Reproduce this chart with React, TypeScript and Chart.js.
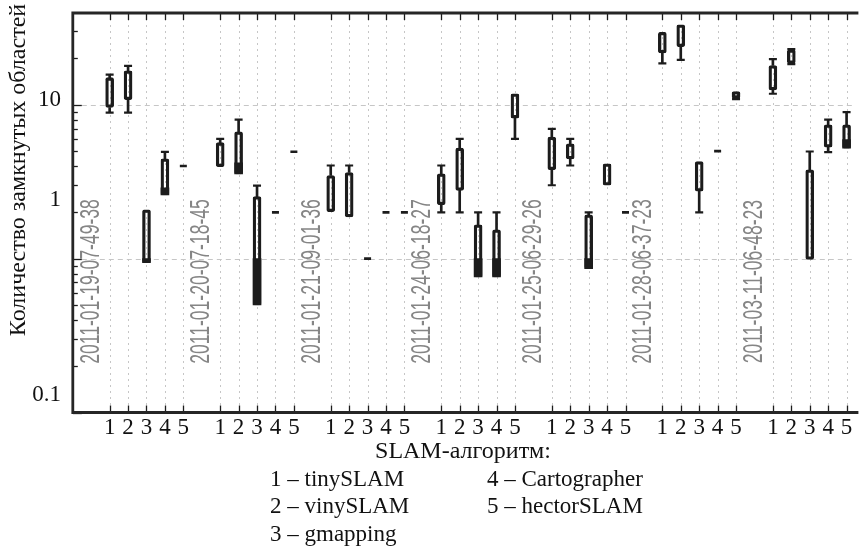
import React, { useEffect, useRef } from 'react';
import { Chart, registerables } from 'chart.js';

Chart.register(...registerables);

// ---------- data ----------
const dateLabels = [
  '2011-01-19-07-49-38',
  '2011-01-20-07-18-45',
  '2011-01-21-09-01-36',
  '2011-01-24-06-18-27',
  '2011-01-25-06-29-26',
  '2011-01-28-06-37-23',
  '2011-03-11-06-48-23',
];
const algorithmLabels = ['1', '2', '3', '4', '5'];
const legendLines = ['1 – tinySLAM', '2 – vinySLAM', '3 – gmapping', '4 – Cartographer', '5 – hectorSLAM'];
const xAxisTitle = 'SLAM-алгоритм:';
const yAxisTitle = 'Количество замкнутых областей';

// y tick marks (value) and the text shown for them, with the value at which the text sits
const yTickValues = [0.1, 1, 10];
const yTickTexts = ['0.1', '1', '10'];
const yTickTextAt = [0.131, 2.42, 10.8];
const yMinorTicks = [0.2, 0.3, 0.4, 0.5, 0.6, 0.7, 0.8, 0.9, 2, 3, 4, 5, 6, 7, 8, 9, 20, 30];
const yMin = 0.1;
const yMax = 39.5;

// per item: 7 runs x 5 algorithms
const whiskerLow = [
  8.9, 8.9, 0.94, 2.6, 4.0,
  3.96, 3.56, 0.5, 2.0, 4.95,
  2.02, 1.87, 1.0, 2.0, 2.0,
  2.0, 2.0, 0.76, 0.76, 6.0,
  3.0, 4.03, 0.86, 3.0, 2.0,
  18.6, 19.6, 2.0, 5.0, 10.9,
  11.8, 18.4, 0.99, 4.93, 5.23,
];
const boxLow = [
  9.6, 10.8, 0.94, 2.6, 4.0,
  3.96, 3.56, 0.5, 2.0, 4.95,
  2.02, 1.87, 1.0, 2.0, 2.0,
  2.24, 2.78, 0.76, 0.76, 8.2,
  3.78, 4.44, 0.86, 3.0, 2.0,
  21.7, 23.9, 2.74, 5.0, 11.06,
  12.5, 18.6, 0.99, 5.31, 5.23,
];
const boxHigh = [
  15.0, 16.6, 2.08, 4.46, 4.0,
  5.67, 6.68, 2.53, 2.0, 4.95,
  3.47, 3.63, 1.0, 2.0, 2.0,
  3.56, 5.23, 1.66, 1.54, 11.8,
  6.17, 5.58, 1.93, 4.14, 2.0,
  29.6, 33.1, 4.28, 5.0, 12.2,
  18.0, 22.8, 3.78, 7.41, 7.41,
];
const whiskerHigh = [
  15.7, 17.9, 2.08, 4.95, 4.0,
  6.0, 8.0, 2.98, 2.0, 4.95,
  4.03, 4.03, 1.0, 2.0, 2.0,
  4.03, 6.0, 2.0, 2.0, 11.8,
  6.98, 6.0, 2.0, 4.14, 2.0,
  29.6, 33.1, 4.28, 5.0, 12.2,
  19.8, 23.0, 4.97, 8.0, 8.97,
];
// densely filled (solid) part of some boxes: [low, high] or null
const solidLow = [
  null, null, 0.94, 2.6, null,
  null, 3.56, 0.5, null, null,
  null, null, null, null, null,
  null, null, 0.76, 0.76, null,
  null, null, 0.86, null, null,
  null, null, null, null, null,
  null, null, null, null, 5.23,
];
const solidHigh = [
  null, null, 1.0, 2.89, null,
  null, 4.2, 1.0, null, null,
  null, null, null, null, null,
  null, null, 1.0, 1.0, null,
  null, null, 1.0, null, null,
  null, null, null, null, null,
  null, null, null, null, 5.94,
];

const slotsPerRun = 6; // 5 algorithms + 1 spacer
const xMax = 42.37;

const slotOf = (i: number) => 2 + Math.floor(i / 5) * slotsPerRun + (i % 5);
const itemCount = whiskerLow.length;

const INK = '#1c1c1c';
const SERIF = '"Liberation Serif", "Times New Roman", serif';
const SANS = '"Liberation Sans", Arial, sans-serif';

export default function App() {
  const ref = useRef<HTMLCanvasElement | null>(null);

  useEffect(() => {
    const canvas = ref.current;
    if (!canvas) return;

    const boxes: any[] = [];
    const solids: any[] = [];
    const lowWh: any[] = [];
    const highWh: any[] = [];
    const caps: any[] = [];
    const singles: any[] = [];
    for (let i = 0; i < itemCount; i++) {
      const x = slotOf(i);
      if (boxHigh[i] > boxLow[i]) {
        boxes.push({ x, y: [boxLow[i], boxHigh[i]] });
      } else {
        singles.push({ x, y: boxLow[i] });
      }
      if (solidLow[i] != null && solidHigh[i] != null) {
        solids.push({ x, y: [solidLow[i], solidHigh[i]] });
      }
      if (whiskerLow[i] < boxLow[i]) {
        lowWh.push({ x, y: [whiskerLow[i], boxLow[i]] });
        caps.push({ x, y: whiskerLow[i] });
      }
      if (whiskerHigh[i] > boxHigh[i]) {
        highWh.push({ x, y: [boxHigh[i], whiskerHigh[i]] });
        caps.push({ x, y: whiskerHigh[i] });
      }
    }

    const framePlugin = {
      id: 'frame',
      beforeDatasetsDraw(chart: any) {
        const { ctx, chartArea: a, scales } = chart;
        const xs = scales.x;
        const ys = scales.y;
        ctx.save();
        ctx.strokeStyle = '#c6c6c6';
        ctx.lineWidth = 1;
        // vertical grid
        ctx.setLineDash([2, 4]);
        for (let i = 0; i < itemCount; i++) {
          const px = Math.round(xs.getPixelForValue(slotOf(i))) + 0.5;
          ctx.beginPath();
          ctx.moveTo(px, a.top);
          ctx.lineTo(px, a.bottom);
          ctx.stroke();
        }
        // horizontal grid
        ctx.setLineDash([5, 4]);
        for (const v of yTickValues) {
          const py = Math.round(ys.getPixelForValue(v)) + 0.5;
          if (py > a.bottom - 2) continue;
          ctx.beginPath();
          ctx.moveTo(a.left, py);
          ctx.lineTo(a.right, py);
          ctx.stroke();
        }
        ctx.restore();
      },
      afterDatasetsDraw(chart: any) {
        const { ctx, chartArea: a, scales } = chart;
        const xs = scales.x;
        const ys = scales.y;
        ctx.save();
        ctx.setLineDash([]);

        // ticks
        ctx.strokeStyle = INK;
        ctx.lineWidth = 1.3;
        for (let i = 0; i < itemCount; i++) {
          const px = Math.round(xs.getPixelForValue(slotOf(i))) + 0.5;
          ctx.beginPath();
          ctx.moveTo(px, a.bottom);
          ctx.lineTo(px, a.bottom - 7);
          ctx.moveTo(px, a.top);
          ctx.lineTo(px, a.top + 7);
          ctx.stroke();
        }
        for (const v of yMinorTicks) {
          const py = Math.round(ys.getPixelForValue(v)) + 0.5;
          ctx.beginPath();
          ctx.moveTo(a.left, py);
          ctx.lineTo(a.left + 5, py);
          ctx.stroke();
        }
        for (const v of yTickValues) {
          const py = Math.round(ys.getPixelForValue(v)) + 0.5;
          ctx.beginPath();
          ctx.moveTo(a.left, py);
          ctx.lineTo(a.left + 9, py);
          ctx.stroke();
        }

        // frame (left, top, bottom)
        ctx.lineWidth = 2.8;
        ctx.strokeStyle = '#262626';
        ctx.beginPath();
        ctx.moveTo(a.right + 5, a.top);
        ctx.lineTo(a.left, a.top);
        ctx.lineTo(a.left, a.bottom);
        ctx.lineTo(a.right + 5, a.bottom);
        ctx.stroke();

        // run date labels (rotated, condensed, grey)
        ctx.fillStyle = '#858585';
        ctx.font = `27px ${SANS}`;
        ctx.textAlign = 'center';
        ctx.textBaseline = 'middle';
        const dateY = ys.getPixelForValue(0.71);
        dateLabels.forEach((t, g) => {
          const px = xs.getPixelForValue(1 + g * slotsPerRun);
          ctx.save();
          ctx.translate(px, dateY);
          ctx.rotate(-Math.PI / 2);
          ctx.scale(0.65, 1);
          ctx.fillText(t, 0, 0);
          ctx.restore();
        });

        // y tick labels
        ctx.fillStyle = '#111';
        ctx.font = `23px ${SERIF}`;
        ctx.textAlign = 'right';
        ctx.textBaseline = 'middle';
        yTickTexts.forEach((t, k) => {
          ctx.fillText(t, 61, ys.getPixelForValue(yTickTextAt[k]));
        });

        // x tick labels
        ctx.textAlign = 'center';
        for (let i = 0; i < itemCount; i++) {
          ctx.fillText(algorithmLabels[i % 5], xs.getPixelForValue(slotOf(i)), a.bottom + 15);
        }

        // axis titles
        ctx.font = `24px ${SERIF}`;
        ctx.fillText(xAxisTitle, 463, 452);
        ctx.save();
        ctx.translate(19, 170);
        ctx.rotate(-Math.PI / 2);
        ctx.fillText(yAxisTitle, 0, 0);
        ctx.restore();

        // legend
        ctx.font = `23px ${SERIF}`;
        ctx.textAlign = 'left';
        const colX = [270, 270, 270, 487, 487];
        const rowY = [480, 507, 535, 480, 507];
        legendLines.forEach((t, k) => ctx.fillText(t, colX[k], rowY[k]));

        ctx.restore();
      },
    };

    const chart = new Chart(canvas, {
      type: 'bar',
      data: {
        datasets: [
          {
            type: 'bar',
            data: lowWh,
            backgroundColor: INK,
            barThickness: 2,
            grouped: false,
            borderWidth: 0,
          } as any,
          {
            type: 'bar',
            data: highWh,
            backgroundColor: INK,
            barThickness: 2,
            grouped: false,
            borderWidth: 0,
          } as any,
          {
            type: 'bar',
            data: solids,
            backgroundColor: INK,
            barThickness: 8,
            grouped: false,
            borderWidth: 0,
          } as any,
          {
            type: 'bar',
            data: boxes,
            backgroundColor: 'rgba(0,0,0,0)',
            borderColor: INK,
            borderWidth: 2.6,
            borderSkipped: false,
            borderRadius: 2,
            barThickness: 8,
            grouped: false,
          } as any,
          {
            type: 'scatter',
            data: caps,
            pointStyle: 'line',
            radius: 4,
            borderWidth: 2.2,
            borderColor: INK,
            backgroundColor: INK,
          } as any,
          {
            type: 'scatter',
            data: singles,
            pointStyle: 'line',
            radius: 3.5,
            borderWidth: 2.6,
            borderColor: INK,
            backgroundColor: INK,
          } as any,
        ],
      },
      options: {
        animation: false,
        responsive: false,
        devicePixelRatio: 1,
        layout: { padding: { left: 72.8, top: 13, right: 0, bottom: 134.5 } },
        plugins: { legend: { display: false }, tooltip: { enabled: false } },
        scales: {
          x: { type: 'linear', min: 0, max: xMax, display: false, offset: false },
          y: { type: 'logarithmic', min: yMin, max: yMax, display: false },
        },
      } as any,
      plugins: [framePlugin],
    });

    return () => chart.destroy();
  }, []);

  return (
    <div style={{ position: 'fixed', left: 0, top: 0, width: 860, height: 547, background: '#fff', overflow: 'hidden' }}>
      <canvas ref={ref} width={860} height={547} style={{ width: 860, height: 547, display: 'block' }} />
    </div>
  );
}
